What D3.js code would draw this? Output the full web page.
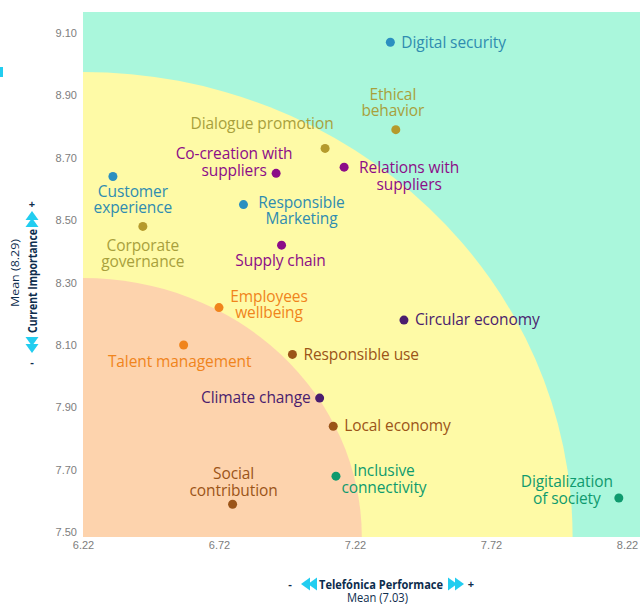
<!DOCTYPE html>
<html>
<head>
<meta charset="utf-8">
<script src="https://cdn.jsdelivr.net/npm/d3@7"></script>
<style>
  body { margin: 0; background: #fff; }
  svg { display: block; font-family: "Open Sans", sans-serif; }
</style>
</head>
<body>
<svg id="chart" width="640" height="606"></svg>
<script>
// Materiality topics
var topics = [
  "Digital security", "Ethical behavior", "Dialogue promotion", "Co-creation with suppliers",
  "Relations with suppliers", "Customer experience", "Responsible Marketing", "Corporate governance",
  "Supply chain", "Employees wellbeing", "Circular economy", "Talent management",
  "Responsible use", "Climate change", "Local economy", "Inclusive connectivity",
  "Social contribution", "Digitalization of society"
];
// Telefónica performance (x)
var performance = [
  7.35, 7.37, 7.11, 6.93, 7.18, 6.33, 6.81, 6.44, 6.95,
  6.72, 7.40, 6.59, 6.99, 7.09, 7.14, 7.15, 6.77, 8.19
];
// Current importance (y)
var importance = [
  9.07, 8.79, 8.73, 8.65, 8.67, 8.64, 8.55, 8.48, 8.42,
  8.22, 8.18, 8.10, 8.07, 7.93, 7.84, 7.68, 7.59, 7.61
];
// Colour group of every topic
var groups = [
  "blue", "olive", "olive", "purple", "purple", "blue", "blue", "olive", "purple",
  "orange", "violet", "orange", "brown", "violet", "brown", "green", "brown", "green"
];
var xTicks = [6.22, 6.72, 7.22, 7.72, 8.22];
var yTicks = [7.50, 7.70, 7.90, 8.10, 8.30, 8.50, 8.70, 8.90, 9.10];

// Bands (outer reach of each zone on both axes)
var bandNames = ["low", "mid"];
var bandX = [7.245, 8.02];
var bandY = [8.315, 8.975];

/* colours */
var dotColor = {
  blue: "#2b8fc0", olive: "#b59a2c", purple: "#8c0c88", orange: "#f0841c",
  violet: "#4a1d6e", brown: "#9b5418", green: "#0f9a6e"
};
var textColor = {
  blue: "#2f8cb0", olive: "#a8a03c", purple: "#8c0c88", orange: "#f0841c",
  violet: "#4a1d6e", brown: "#9b5418", green: "#0f9a6e"
};
var bandColor = { low: "#fdd3ad", mid: "#fefaa6" };

// label layout: dx/dy of first line centre from the dot, anchor, lines
var labelLayout = {
  "Digital security": { dx: 11, dy: 1, anchor: "start", lines: ["Digital security"] },
  "Ethical behavior": { dx: -3, dy: -35, anchor: "middle", lines: ["Ethical", "behavior"] },
  "Dialogue promotion": { dx: -63, dy: -25, anchor: "middle", lines: ["Dialogue promotion"] },
  "Co-creation with suppliers": { dx: -42, dy: -19, anchor: "middle", lines: ["Co-creation with", "suppliers"] },
  "Relations with suppliers": { dx: 65, dy: 1, anchor: "middle", lines: ["Relations with", "suppliers"] },
  "Customer experience": { dx: 20, dy: 15, anchor: "middle", lines: ["Customer", "experience"] },
  "Responsible Marketing": { dx: 58, dy: -2, anchor: "middle", lines: ["Responsible", "Marketing"] },
  "Corporate governance": { dx: 0, dy: 19, anchor: "middle", lines: ["Corporate", "governance"] },
  "Supply chain": { dx: -1, dy: 16, anchor: "middle", lines: ["Supply chain"] },
  "Employees wellbeing": { dx: 50, dy: -11, anchor: "middle", lines: ["Employees", "wellbeing"] },
  "Circular economy": { dx: 11, dy: 0, anchor: "start", lines: ["Circular economy"] },
  "Talent management": { dx: -4, dy: 17, anchor: "middle", lines: ["Talent management"] },
  "Responsible use": { dx: 11, dy: 0, anchor: "start", lines: ["Responsible use"] },
  "Climate change": { dx: -9, dy: 0, anchor: "end", lines: ["Climate change"] },
  "Local economy": { dx: 11, dy: 0, anchor: "start", lines: ["Local economy"] },
  "Inclusive connectivity": { dx: 48, dy: -5, anchor: "middle", lines: ["Inclusive", "connectivity"] },
  "Social contribution": { dx: 1, dy: -30, anchor: "middle", lines: ["Social", "contribution"] },
  "Digitalization of society": { dx: -52, dy: -16, anchor: "middle", lines: ["Digitalization", "of society"] }
};

var svg = d3.select("#chart");
var margin = { left: 83, top: 12, bottom: 537, right: 660 };

var x = d3.scaleLinear().domain([6.22, 8.22]).range([83, 627]);
var y = d3.scaleLinear().domain([7.485, 9.167]).range([537, 12]);

var plot = svg.append("g");

// Background zones
plot.append("rect")
  .attr("x", margin.left).attr("y", margin.top)
  .attr("width", margin.right - margin.left).attr("height", margin.bottom - margin.top)
  .attr("fill", "#aaf7dc");

svg.append("clipPath").attr("id", "plotclip")
  .append("rect")
  .attr("x", margin.left).attr("y", margin.top)
  .attr("width", margin.right - margin.left).attr("height", margin.bottom - margin.top);

var x0 = x(6.22), y0 = y(7.485);
bandNames.slice().reverse().forEach(function (b) {
  var i = bandNames.indexOf(b);
  plot.append("ellipse")
    .attr("clip-path", "url(#plotclip)")
    .attr("cx", x0).attr("cy", y0)
    .attr("rx", x(bandX[i]) - x0)
    .attr("ry", y0 - y(bandY[i]))
    .attr("fill", bandColor[b]);
});

// Axes (labels only)
var xAxis = d3.axisBottom(x).tickValues(xTicks).tickFormat(d3.format(".2f")).tickSize(0).tickPadding(0);
svg.append("g").attr("transform", "translate(0,541)").call(xAxis)
  .call(function (g) { g.select(".domain").remove(); })
  .selectAll("text").attr("fill", "#7d7d7d").style("font-size", "11px").attr("dy", "0.71em");

var yAxis = d3.axisLeft(y).tickValues(yTicks).tickFormat(d3.format(".2f")).tickSize(0).tickPadding(0);
svg.append("g").attr("transform", "translate(77,0)").call(yAxis)
  .call(function (g) { g.select(".domain").remove(); })
  .selectAll("text").attr("fill", "#7d7d7d").style("font-size", "11px");

// Points
var nodes = topics.map(function (t, i) {
  return { name: t, px: performance[i], py: importance[i], group: groups[i] };
});

plot.selectAll(".dot")
  .data(nodes)
  .enter()
  .append("circle")
    .classed("dot", true)
    .attr("cx", function (d) { return x(d.px); })
    .attr("cy", function (d) { return y(d.py); })
    .attr("r", 4.5)
    .attr("fill", function (d) { return dotColor[d.group]; });

var labels = plot.selectAll(".lbl")
  .data(nodes)
  .enter()
  .append("text")
    .classed("lbl", true)
    .attr("text-anchor", function (d) { return labelLayout[d.name].anchor; })
    .attr("fill", function (d) { return textColor[d.group]; })
    .style("font-size", "15.5px")
    .attr("letter-spacing", "-0.1");

labels.each(function (d) {
  var L = labelLayout[d.name];
  var t = d3.select(this);
  L.lines.forEach(function (line, k) {
    t.append("tspan")
      .attr("x", x(d.px) + L.dx)
      .attr("y", y(d.py) + L.dy + k * 16.5)
      .attr("dy", "0.33em")
      .text(line);
  });
});

// Double chevron arrows
function chevrons(g, dir) {
  // dir = 1 pointing right, -1 pointing left
  [0, 7].forEach(function (off) {
    var bx = (off - 3.5) * dir;
    g.append("path")
      .attr("d", "M" + (bx - 4.5 * dir) + ",-6.5 L" + (bx + 4.5 * dir) + ",0 L" + (bx - 4.5 * dir) + ",6.5 Z")
      .attr("fill", "#22cdf0");
  });
}

var navy = "#0d2d4d";

// X title
var xt = svg.append("g").attr("transform", "translate(0,584)");
xt.append("text").attr("x", 290).attr("y", 0).attr("dy", "0.35em").attr("text-anchor", "middle")
  .attr("fill", navy).style("font-size", "11px").style("font-weight", "bold").text("-");
chevrons(xt.append("g").attr("transform", "translate(309,0)"), -1);
xt.append("text").attr("x", 319).attr("y", 0).attr("dy", "0.35em")
  .attr("textLength", 124).attr("lengthAdjust", "spacingAndGlyphs")
  .attr("fill", navy).style("font-size", "13px")
  .style("font-weight", "bold").text("Telefónica Performace");
chevrons(xt.append("g").attr("transform", "translate(456,0)"), 1);
xt.append("text").attr("x", 471).attr("y", 0).attr("dy", "0.35em").attr("text-anchor", "middle")
  .attr("fill", navy).style("font-size", "11px").style("font-weight", "bold").text("+");
svg.append("text").attr("x", 347).attr("y", 598).attr("dy", "0.35em")
  .attr("textLength", 61).attr("lengthAdjust", "spacingAndGlyphs")
  .attr("fill", navy).style("font-size", "12.5px").text("Mean (7.03)");

// Y title
var yt = svg.append("g").attr("transform", "translate(32,0)");
yt.append("text").attr("x", 0).attr("y", 204).attr("dy", "0.35em").attr("text-anchor", "middle")
  .attr("fill", navy).style("font-size", "11px").style("font-weight", "bold").text("+");
chevrons(yt.append("g").attr("transform", "translate(0,219) rotate(-90)"), 1);
yt.append("text").attr("transform", "translate(0,333) rotate(-90)").attr("dy", "0.35em")
  .attr("textLength", 104).attr("lengthAdjust", "spacingAndGlyphs")
  .attr("fill", navy).style("font-size", "13px")
  .style("font-weight", "bold").text("Current Importance");
chevrons(yt.append("g").attr("transform", "translate(0,345) rotate(90)"), 1);
yt.append("text").attr("x", 0).attr("y", 362).attr("dy", "0.35em").attr("text-anchor", "middle")
  .attr("fill", navy).style("font-size", "11px").style("font-weight", "bold").text("-");
svg.append("text").attr("transform", "translate(15,307) rotate(-90)").attr("dy", "0.35em")
  .attr("textLength", 68).attr("lengthAdjust", "spacingAndGlyphs")
  .attr("fill", navy).style("font-size", "11px").text("Mean (8.29)");

// cut-off marker at the left edge
svg.append("rect").attr("x", 0).attr("y", 67).attr("width", 3).attr("height", 10).attr("fill", "#22cdf0");
</script>
</body>
</html>
